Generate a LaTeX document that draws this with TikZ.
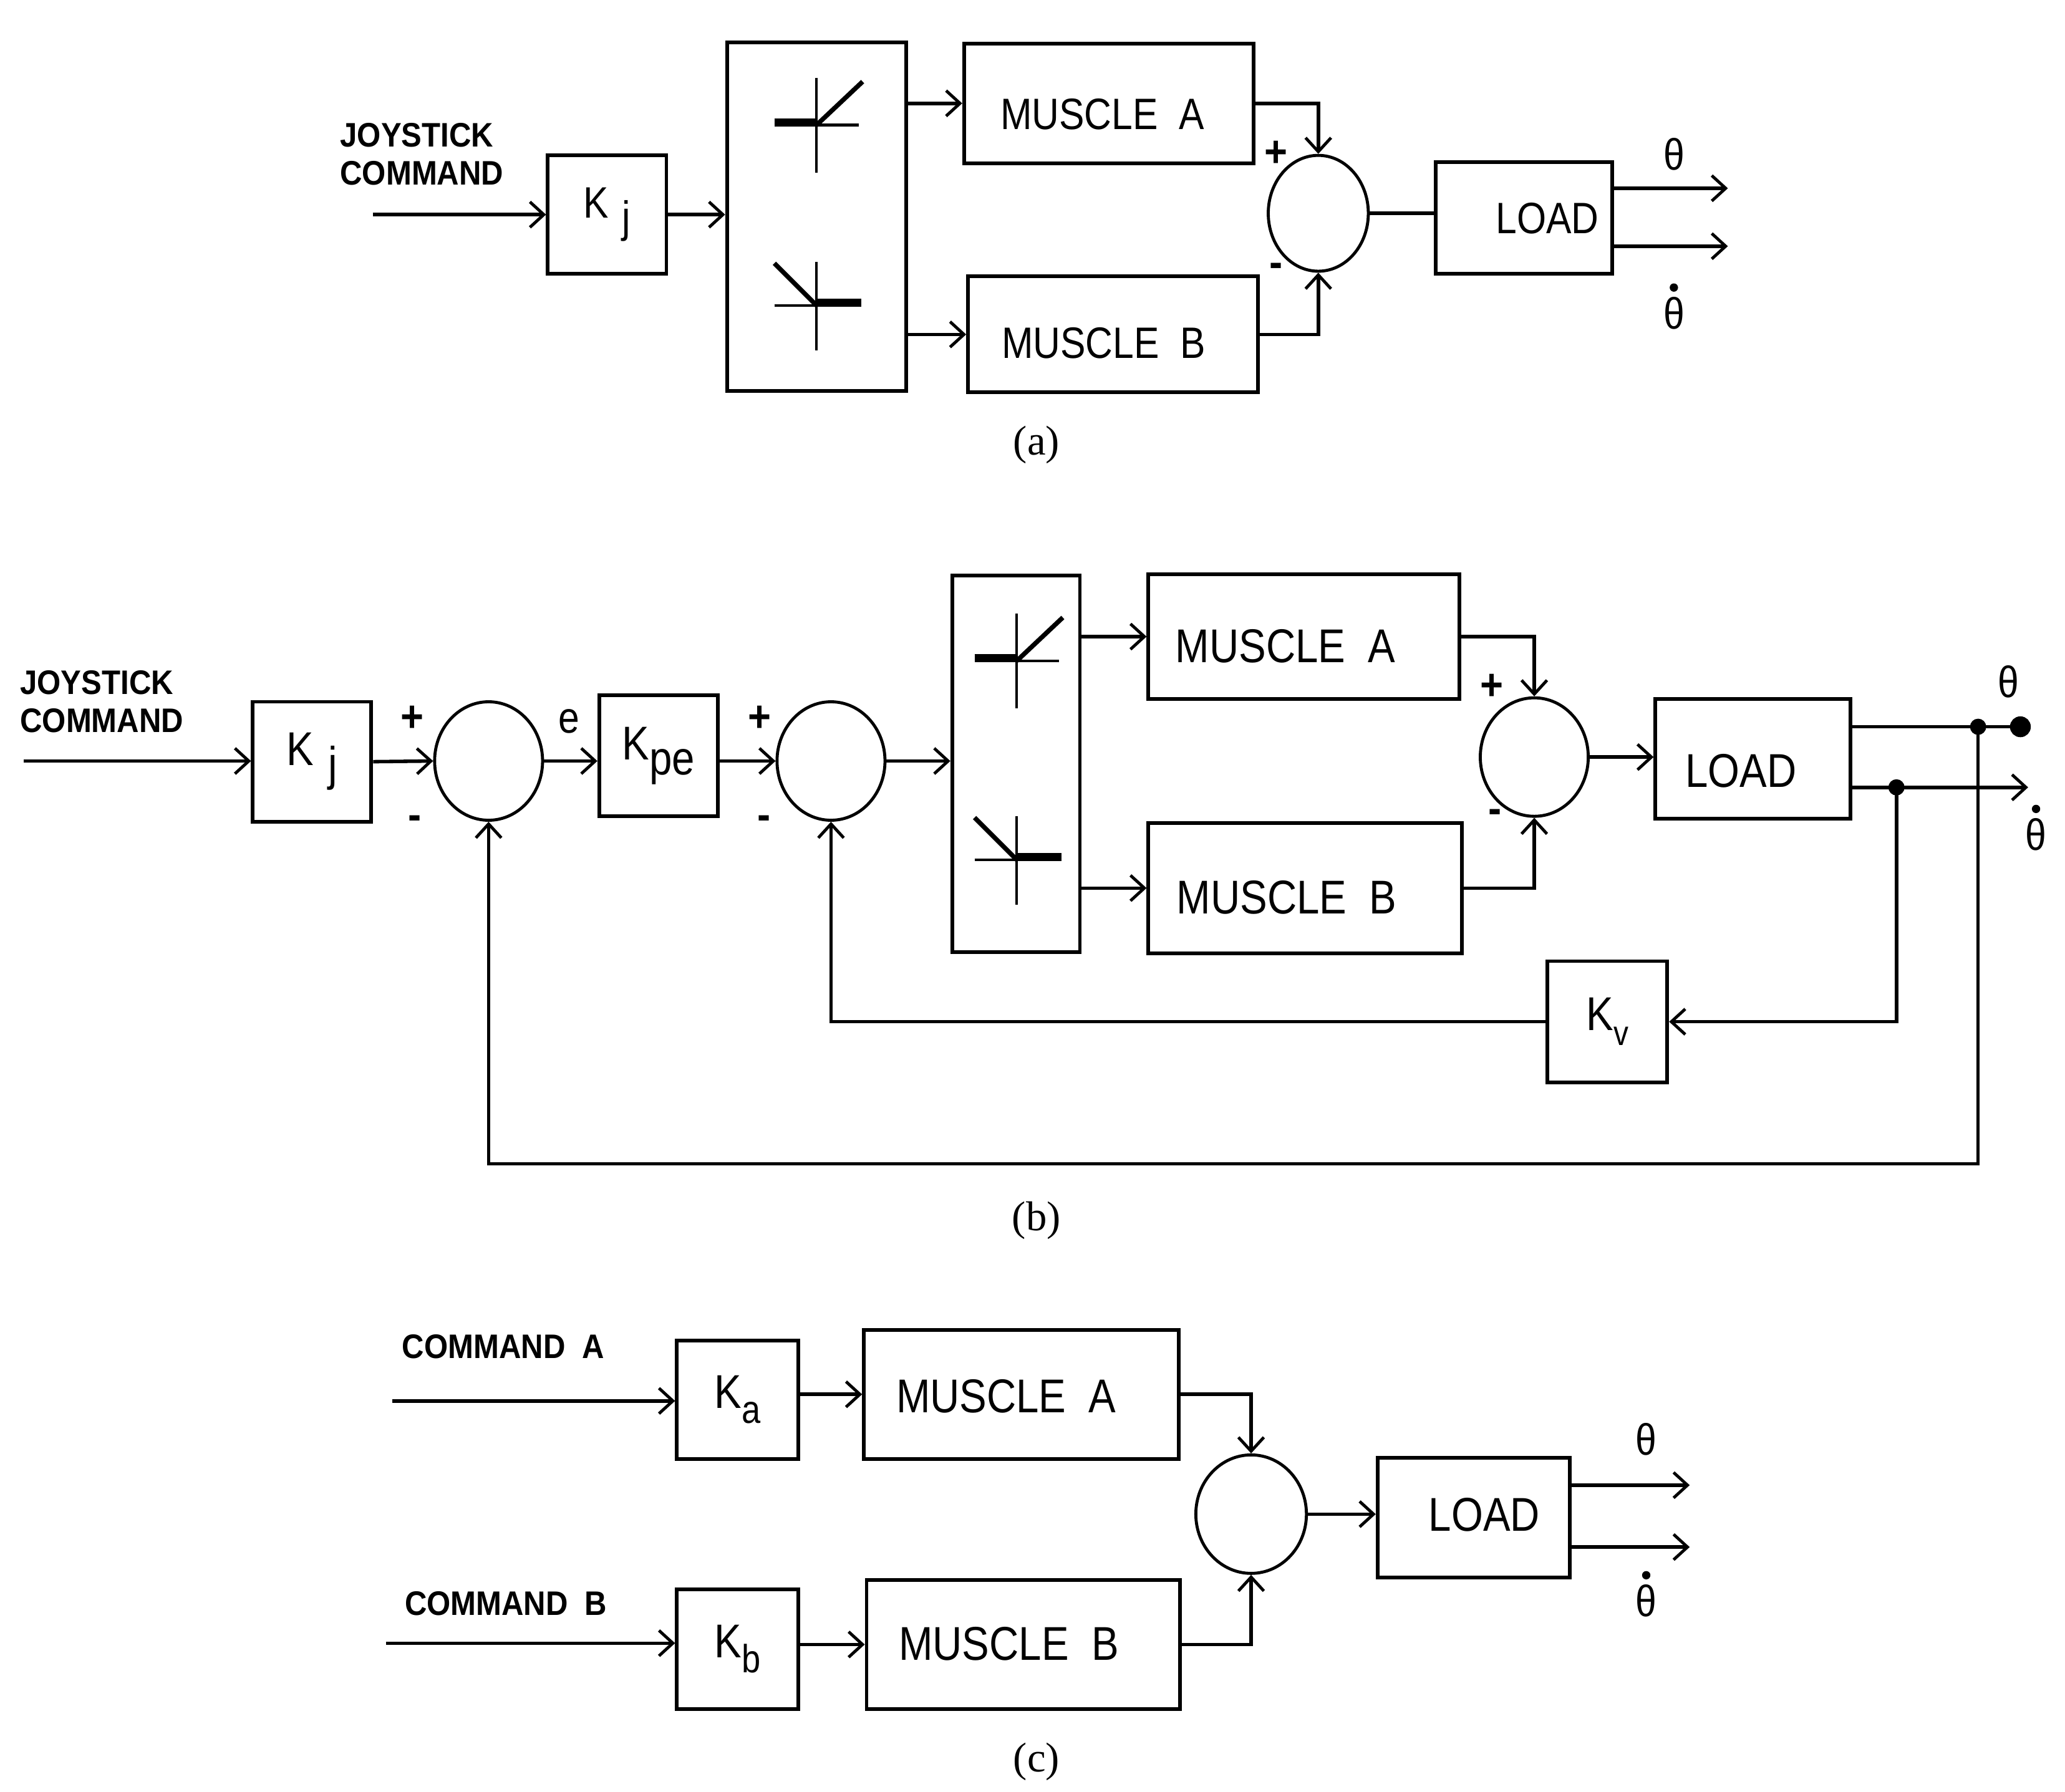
\documentclass[tikz,border=0pt]{standalone}
\usepackage{fontspec}
\setmainfont{Liberation Serif}
\newfontfamily\plotfont[FakeStretch=0.86]{Liberation Sans}
\newfontfamily\cmdfam[FakeStretch=0.9]{Liberation Sans}
\usetikzlibrary{arrows.meta,shapes.geometric}
\newcommand\boxfonta{\plotfont\fontsize{19}{21}\selectfont}
\newcommand\boxfont{\plotfont\fontsize{20.5}{22}\selectfont}
\newcommand\lblfont{\plotfont\fontsize{19}{20}\selectfont}
\newcommand\sgnfont{\cmdfam\bfseries\fontsize{19}{19}\selectfont}
\newcommand\cmdfont{\cmdfam\bfseries\fontsize{14.7}{16.5}\selectfont}
\newcommand\capfontx{\fontsize{18}{20}\selectfont}
\newcommand\ptxt[3]{\makebox[0pt]{\hspace*{#1}\raisebox{#2}[0pt][0pt]{#3}}}
\begin{document}
\begin{tikzpicture}[x=0.02cm,y=-0.02cm,
  blk/.style={draw,rectangle,line width=1.6pt,inner sep=0pt,font=\boxfont},
  blka/.style={blk,font=\boxfonta},
  sumn/.style={draw,ellipse,line width=1.3pt,inner sep=0pt,minimum width=1.64cm,minimum height=1.8cm},
  arr/.style={line width=1.5pt,-{Straight Barb[length=6pt,width=11pt,line width=1.3pt]}},
  blob/.style={line width=1.5pt,-{Circle[length=9pt]}},
  ln/.style={line width=1.5pt},
  lbl/.style={font=\lblfont,inner sep=0pt},
  sgn/.style={font=\sgnfont,inner sep=0pt},
  cmd/.style={font=\cmdfont,inner sep=0pt,align=left,anchor=west},
  captn/.style={font=\capfontx,inner sep=0pt},
  jdot/.style={circle,fill,inner sep=0pt,minimum size=7pt},
  tdot/.style={fill},
  dzpos/.pic={
    \draw[line width=1.2pt] (0,-36) -- (0,36);
    \draw[line width=1.2pt] (-32,0) -- (32,0);
    \draw[line width=3.5pt] (-32,-2) -- (0,-2);
    \draw[line width=2pt] (0,0) -- (35,-33);
  },
  dzneg/.pic={
    \draw[line width=1.2pt] (0,-33) -- (0,34);
    \draw[line width=1.2pt] (-32,0) -- (34,0);
    \draw[line width=3.5pt] (0,-2) -- (34,-2);
    \draw[line width=2pt] (0,0) -- (-32,-32);
  }
]
\useasboundingbox (0,0) rectangle (1568,1361);

% ---------------- panel (a) ----------------
\node[cmd] (jca) at (258,117) {JOYSTICK\\COMMAND};
\coordinate (ina) at (283,163);
\node[blka,minimum width=1.8cm,minimum height=1.8cm] (kja) at (461,163) {K\hspace{0.3em}\raisebox{-0.6ex}{j}};
\node[blka,minimum width=2.72cm,minimum height=5.3cm] (dza) at (620,164.5) {};
\pic at (620,95) {dzpos};
\pic at (620,232) {dzneg};
\node[blka,minimum width=4.4cm,minimum height=1.82cm] (maa) at (842,78.5) {\ptxt{-0.2cm}{-0.40cm}{MUSCLE\ \ A}};
\node[blka,minimum width=4.4cm,minimum height=1.76cm] (mba) at (845,254) {\ptxt{-0.28cm}{-0.36cm}{MUSCLE\ \ B}};
\node[sumn,minimum width=1.52cm,minimum height=1.76cm] (suma) at (1001,162) {};
\node[blka,minimum width=2.68cm,minimum height=1.7cm] (loada) at (1157,165.5) {\ptxt{0.72cm}{-0.24cm}{LOAD}};
\coordinate (tha) at (1312,143);
\coordinate (tda) at (1312,187);
\draw[arr] (ina) -- (ina -| kja.west);
\draw[arr] (kja.east) -- (kja.east -| dza.west);
\draw[arr] (dza.east |- maa.west) -- (maa.west);
\draw[arr] (dza.east |- mba.west) -- (mba.west);
\draw[arr] (maa.east) -| (suma.north);
\draw[arr] (mba.east) -| (suma.south);
\draw[ln] (suma.east) -- (suma.east -| loada.west);
\draw[arr] (tha -| loada.east) -- (tha);
\draw[arr] (tda -| loada.east) -- (tda);
\node[sgn] (pa) at (969,117) {+};
\node[sgn] (ma) at (969,205) {-};
\node[lbl] (ltha) at (1271,117) {θ};
\node[lbl] (ltda) at (1271,238) {θ};
\fill[tdot] (ltda.north) ++(0,-7) circle[radius=1.8pt];
\node[captn] (capa) at (787,338) {(a)};

% ---------------- panel (b) ----------------
\node[cmd] (jcb) at (15,533) {JOYSTICK\\COMMAND};
\coordinate (inb) at (18,578);
\node[blk,minimum width=1.8cm,minimum height=1.82cm] (kjb) at (237,578.5) {K\hspace{0.3em}\raisebox{-0.6ex}{j}};
\node[sumn] (s1) at (371,578) {};
\node[blk,minimum width=1.8cm,minimum height=1.84cm] (kpe) at (500,574) {K\raisebox{-0.6ex}{pe}};
\node[sumn] (s2) at (631,578) {};
\node[blk,minimum width=1.94cm,minimum height=5.72cm] (dzb) at (771.5,580) {};
\pic at (772,502) {dzpos};
\pic at (772,653) {dzneg};
\node[blk,minimum width=4.72cm,minimum height=1.9cm] (mab) at (990,483.5) {\ptxt{-0.56cm}{-0.39cm}{MUSCLE\ \ A}};
\node[blk,minimum width=4.76cm,minimum height=1.98cm] (mbb) at (991,674.5) {\ptxt{-0.56cm}{-0.39cm}{MUSCLE\ \ B}};
\node[sumn] (s3) at (1165,575) {};
\node[blk,minimum width=2.96cm,minimum height=1.82cm] (loadb) at (1331,576.5) {\ptxt{-0.36cm}{-0.43cm}{LOAD}};
\node[blk,minimum width=1.82cm,minimum height=1.84cm] (kv) at (1220.5,776) {K\raisebox{-0.6ex}{\fontsize{15}{15}\selectfont v}};
\coordinate (thb) at (1542,552);
\coordinate (tdb) at (1540,598);
\node[jdot] (d1) at (1502,552) {};
\node[jdot] (d2) at (1440,598) {};
\draw[arr] (inb) -- (inb -| kjb.west);
\draw[arr] (kjb.east) -- (s1.west);
\draw[arr] (s1.east) -- (s1.east -| kpe.west);
\draw[arr] (kpe.east |- s2.west) -- (s2.west);
\draw[arr] (s2.east) -- (s2.east -| dzb.west);
\draw[arr] (dzb.east |- mab.west) -- (mab.west);
\draw[arr] (dzb.east |- mbb.west) -- (mbb.west);
\draw[arr] (mab.east) -| (s3.north);
\draw[arr] (mbb.east) -| (s3.south);
\draw[arr] (s3.east) -- (s3.east -| loadb.west);
\draw[blob] (thb -| loadb.east) -- (thb);
\draw[arr] (tdb -| loadb.east) -- (tdb);
\draw[arr] (d2.center) |- (kv.east);
\draw[arr] (kv.west) -| (s2.south);
\draw[arr] (d1.center) |- (s1.south |- 0,884) -- (s1.south);
\node[sgn] (p1) at (313,546) {+};
\node[sgn] (m1) at (315,625) {-};
\node[lbl] (le) at (432,548) {e};
\node[sgn] (p2) at (577,546) {+};
\node[sgn] (m2) at (580,625) {-};
\node[sgn] (p3) at (1133,522) {+};
\node[sgn] (m3) at (1135,620) {-};
\node[lbl] (lthb) at (1525,518) {θ};
\node[lbl] (ltdb) at (1546,634) {θ};
\fill[tdot] (ltdb.north) ++(0,-7) circle[radius=1.8pt];
\node[captn] (capb) at (787,927) {(b)};

% ---------------- panel (c) ----------------
\node[cmd] (cma) at (305,1023) {COMMAND\hspace{0.5em}A};
\node[cmd] (cmb) at (307,1218) {COMMAND\hspace{0.5em}B};
\coordinate (inca) at (298,1064);
\coordinate (incb) at (293,1248);
\node[blk,minimum width=1.84cm,minimum height=1.8cm] (ka) at (560,1063) {K\raisebox{-0.6ex}{\fontsize{17}{17}\selectfont a}};
\node[blk,minimum width=1.84cm,minimum height=1.82cm] (kb) at (560,1252.5) {K\raisebox{-0.6ex}{\fontsize{17}{17}\selectfont b}};
\node[blk,minimum width=4.78cm,minimum height=1.96cm] (mac) at (775.5,1059) {\ptxt{-0.46cm}{-0.28cm}{MUSCLE\ \ A}};
\node[blk,minimum width=4.76cm,minimum height=1.96cm] (mbc) at (777,1249) {\ptxt{-0.44cm}{-0.24cm}{MUSCLE\ \ B}};
\node[sumn,minimum width=1.68cm,minimum height=1.8cm] (sc) at (950,1150) {};
\node[blk,minimum width=2.92cm,minimum height=1.82cm] (loadc) at (1119,1152.5) {\ptxt{0.32cm}{-0.21cm}{LOAD}};
\coordinate (thc) at (1283,1128);
\coordinate (tdc) at (1283,1175);
\draw[arr] (inca) -- (inca -| ka.west);
\draw[arr] (incb) -- (incb -| kb.west);
\draw[arr] (ka.east |- mac.west) -- (mac.west);
\draw[arr] (kb.east |- mbc.west) -- (mbc.west);
\draw[arr] (mac.east) -| (sc.north);
\draw[arr] (mbc.east) -| (sc.south);
\draw[arr] (sc.east) -- (sc.east -| loadc.west);
\draw[arr] (thc -| loadc.east) -- (thc);
\draw[arr] (tdc -| loadc.east) -- (tdc);
\node[lbl] (lthc) at (1250,1093) {θ};
\node[lbl] (ltdc) at (1250,1216) {θ};
\fill[tdot] (ltdc.north) ++(0,-7) circle[radius=1.8pt];
\node[captn] (capc) at (787,1338) {(c)};
\end{tikzpicture}
\end{document}
